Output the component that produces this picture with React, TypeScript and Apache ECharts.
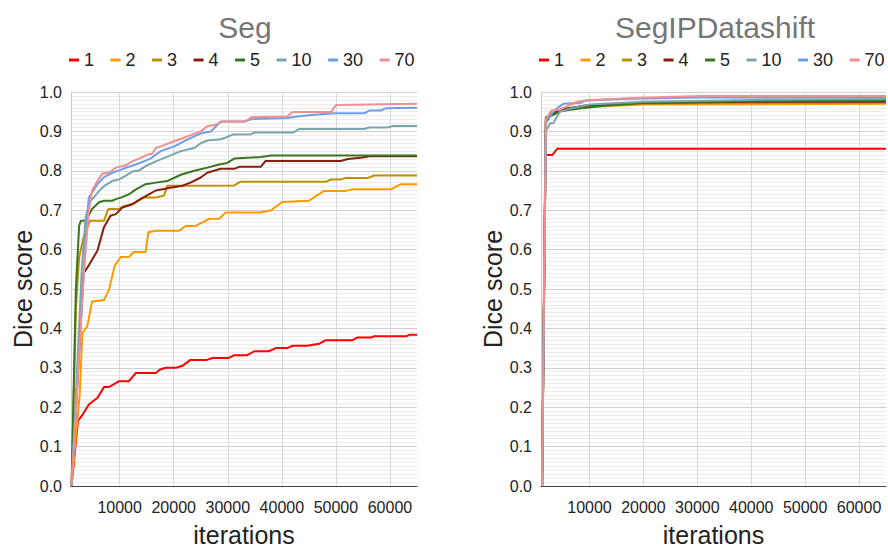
import React, { useEffect, useRef } from "react";
import * as echarts from "echarts";

type Pt = [number, number];

const SERIES_NAMES = ["1", "2", "3", "4", "5", "10", "30", "70"];
const SERIES_COLORS = ["#ff0000", "#ff9900", "#bf9000", "#85200c", "#38761d", "#76a5af", "#6d9eeb", "#ef8f8f"];
const ITER_TICKS = [10000, 20000, 30000, 40000, 50000, 60000];
const CHART_TITLES = ["Seg", "SegIPDatashift"];

// ---- Seg (left) ----
const seg1: Pt[] = [[1100,0],[2300,0.166],[3100,0.18],[4300,0.207],[5900,0.224],[7100,0.251],[8000,0.251],[9900,0.266],[11700,0.266],[13000,0.287],[16700,0.287],[17400,0.295],[18500,0.30],[20400,0.30],[21600,0.305],[23100,0.32],[26100,0.32],[27200,0.325],[30200,0.325],[31200,0.332],[33600,0.332],[34900,0.342],[37600,0.342],[38900,0.35],[41000,0.35],[42000,0.356],[44700,0.356],[46900,0.361],[48100,0.37],[53100,0.37],[54000,0.377],[56500,0.377],[57100,0.38],[63000,0.38],[63600,0.384],[65000,0.384]];
const seg2: Pt[] = [[1100,0],[2600,0.23],[3100,0.388],[4000,0.405],[4900,0.468],[7100,0.472],[8000,0.497],[9100,0.56],[10200,0.581],[11700,0.581],[12600,0.594],[14800,0.594],[15300,0.644],[16700,0.648],[21000,0.648],[22200,0.66],[24000,0.66],[25600,0.671],[26500,0.678],[28400,0.678],[29600,0.694],[36100,0.694],[38000,0.70],[40100,0.721],[45000,0.724],[47800,0.749],[51900,0.749],[53100,0.753],[60200,0.753],[62000,0.766],[65000,0.766]];
const seg3: Pt[] = [[1100,0],[1900,0.45],[2500,0.58],[3400,0.635],[4500,0.673],[7100,0.673],[7900,0.703],[9900,0.703],[10800,0.711],[12300,0.715],[14200,0.732],[16700,0.732],[18200,0.737],[18800,0.762],[31200,0.763],[32300,0.772],[48100,0.772],[49100,0.778],[50900,0.778],[51900,0.782],[55900,0.782],[57100,0.788],[65000,0.788]];
const seg4: Pt[] = [[1100,0],[3300,0.54],[4300,0.56],[5900,0.598],[7100,0.657],[8300,0.686],[9300,0.69],[10500,0.707],[12300,0.715],[13900,0.728],[15400,0.74],[16700,0.75],[19400,0.757],[21600,0.762],[23100,0.77],[25000,0.783],[26200,0.795],[28700,0.805],[31200,0.805],[32100,0.81],[36100,0.81],[37000,0.825],[50900,0.825],[52200,0.83],[54600,0.833],[56200,0.837],[65000,0.837]];
const seg5: Pt[] = [[1100,0],[1900,0.5],[2500,0.66],[2800,0.673],[3700,0.673],[4900,0.703],[6200,0.72],[7100,0.724],[8600,0.724],[9300,0.728],[10200,0.732],[11700,0.74],[13000,0.753],[14800,0.766],[16700,0.77],[18800,0.774],[21300,0.79],[23800,0.80],[26200,0.808],[28400,0.816],[29900,0.82],[31200,0.831],[36100,0.835],[38000,0.839],[65000,0.839]];
const seg10: Pt[] = [[1100,0],[3000,0.55],[3700,0.682],[4600,0.724],[5200,0.732],[6200,0.749],[7100,0.761],[8600,0.774],[9900,0.778],[11100,0.787],[12300,0.798],[13600,0.801],[14800,0.812],[16700,0.824],[17600,0.829],[21300,0.85],[23800,0.858],[25000,0.87],[26200,0.877],[28700,0.88],[29900,0.886],[30900,0.892],[34300,0.893],[34900,0.897],[42000,0.897],[43200,0.906],[55200,0.906],[56200,0.91],[59600,0.91],[60500,0.914],[65000,0.914]];
const seg30: Pt[] = [[1100,0],[3400,0.547],[3800,0.657],[4300,0.732],[4900,0.745],[5900,0.766],[7100,0.784],[8600,0.795],[9900,0.801],[11400,0.809],[13000,0.816],[14800,0.826],[15700,0.831],[16700,0.841],[17600,0.85],[20100,0.862],[22500,0.879],[25000,0.895],[26900,0.9],[28700,0.925],[33000,0.925],[34300,0.931],[41000,0.934],[42900,0.938],[46000,0.942],[49700,0.946],[55200,0.946],[56200,0.953],[58300,0.953],[59300,0.959],[65000,0.96]];
const seg70: Pt[] = [[1100,0],[3400,0.547],[4300,0.698],[4900,0.75],[5900,0.774],[6800,0.793],[8000,0.795],[9300,0.808],[11100,0.814],[12300,0.824],[13600,0.831],[15100,0.841],[16000,0.843],[16700,0.858],[17600,0.862],[20100,0.875],[22500,0.887],[25000,0.9],[26200,0.913],[27800,0.917],[29000,0.925],[33300,0.925],[34300,0.936],[41000,0.938],[42000,0.949],[49100,0.949],[50000,0.967],[65000,0.97]];

// ---- SegIPDatashift (right) ----
const ds1: Pt[] = [[1200,0],[1800,0.84],[3100,0.84],[4000,0.856],[65000,0.856]];
const ds2: Pt[] = [[1200,0],[1900,0.93],[3000,0.945],[5000,0.955],[8000,0.96],[11600,0.963],[20000,0.968],[65000,0.97]];
const ds3: Pt[] = [[1200,0],[1900,0.93],[3000,0.945],[5000,0.955],[9000,0.962],[15000,0.968],[30000,0.972],[65000,0.973]];
const ds4: Pt[] = [[1200,0],[1900,0.925],[3000,0.945],[4800,0.956],[9000,0.965],[19000,0.972],[40000,0.975],[65000,0.975]];
const ds5: Pt[] = [[1200,0],[1900,0.936],[3000,0.94],[4800,0.952],[8500,0.959],[12800,0.965],[20000,0.972],[40000,0.977],[65000,0.978]];
const ds10: Pt[] = [[1200,0],[1900,0.9],[2700,0.921],[3300,0.921],[4500,0.95],[7000,0.96],[10000,0.968],[20000,0.975],[40000,0.98],[65000,0.982]];
const ds30: Pt[] = [[1200,0],[1900,0.92],[3000,0.945],[4000,0.959],[5100,0.97],[8500,0.973],[9100,0.978],[15900,0.982],[30000,0.986],[65000,0.987]];
const ds70: Pt[] = [[1200,0],[1900,0.93],[2900,0.953],[4400,0.955],[6000,0.965],[7900,0.976],[10000,0.98],[20800,0.986],[30700,0.99],[65000,0.99]];

const SEG_DATA = [seg1, seg2, seg3, seg4, seg5, seg10, seg30, seg70];
const DS_DATA = [ds1, ds2, ds3, ds4, ds5, ds10, ds30, ds70];

const FONT = "'Liberation Sans', Arial, sans-serif";

function buildOption() {
  const grids = [
    { left: 71, right: 471, top: 92, bottom: 63 },
    { left: 541, right: 2, top: 92, bottom: 63 },
  ];
  const xAxes = grids.map((_, i) => ({
    type: "value",
    gridIndex: i,
    min: 1000,
    max: 65000,
    name: "iterations",
    nameLocation: "middle",
    nameGap: 36,
    nameTextStyle: { fontSize: 25, color: "#222", fontFamily: FONT },
    axisLine: { show: true, lineStyle: { color: "#444", width: 1 } },
    axisTick: { show: false, customValues: ITER_TICKS },
    axisLabel: {
      customValues: ITER_TICKS,
      fontSize: 16,
      color: "#222",
      fontFamily: FONT,
      margin: 13,
      formatter: (v: number) => String(Math.round(v)),
    },
    splitLine: { show: true, lineStyle: { color: "#d9d9d9", width: 1 } },
  }));
  const yAxes = grids.map((_, i) => ({
    type: "value",
    gridIndex: i,
    min: 0,
    max: 1,
    interval: 0.1,
    name: "Dice score",
    nameLocation: "middle",
    nameGap: 34,
    nameTextStyle: { fontSize: 25, color: "#222", fontFamily: FONT },
    axisLine: { show: true, lineStyle: { color: "#cccccc" } },
    axisTick: { show: false },
    axisLabel: { fontSize: 16, color: "#222", fontFamily: FONT, margin: 9, formatter: (v: number) => v.toFixed(1) },
    splitLine: { show: true, lineStyle: { color: "#d0d0d0", width: 1 } },
    minorTick: { show: false, splitNumber: 10 },
    minorSplitLine: { show: true, lineStyle: { color: "#ececec", width: 1 } },
  }));
  const series: any[] = [];
  [SEG_DATA, DS_DATA].forEach((group, gi) => {
    group.forEach((data, si) => {
      series.push({
        type: "line",
        name: SERIES_NAMES[si],
        xAxisIndex: gi,
        yAxisIndex: gi,
        data,
        showSymbol: false,
        symbol: "none",
        color: SERIES_COLORS[si],
        lineStyle: { width: 2, color: SERIES_COLORS[si] },
      });
    });
  });
  const legendCommon = {
    data: SERIES_NAMES,
    top: 51,
    padding: 0,
    icon: "rect",
    itemWidth: 10,
    itemHeight: 3,
    itemGap: 16.5,
    selectedMode: false,
    textStyle: { fontSize: 18, color: "#222", fontFamily: FONT, padding: [0, 0, 0, 0] },
  };
  const titleStyle = { fontSize: 30, fontWeight: "normal", color: "#757575", fontFamily: FONT };
  return {
    animation: false,
    backgroundColor: "#ffffff",
    title: [
      { text: CHART_TITLES[0], left: 245, top: 12, textAlign: "center", padding: 0, textStyle: titleStyle },
      { text: CHART_TITLES[1], left: 715, top: 12, textAlign: "center", padding: 0, textStyle: titleStyle },
    ],
    legend: [
      { ...legendCommon, left: 69 },
      { ...legendCommon, left: 539 },
    ],
    grid: grids,
    xAxis: xAxes,
    yAxis: yAxes,
    series,
  };
}

export default function App() {
  const ref = useRef<HTMLDivElement>(null);
  useEffect(() => {
    if (!ref.current) return;
    const chart = echarts.init(ref.current, undefined, { renderer: "svg" });
    chart.setOption(buildOption() as any);
    return () => chart.dispose();
  }, []);
  return (
    <div
      ref={ref}
      style={{ position: "fixed", left: 0, top: 0, width: 888, height: 552, background: "#fff" }}
    />
  );
}
